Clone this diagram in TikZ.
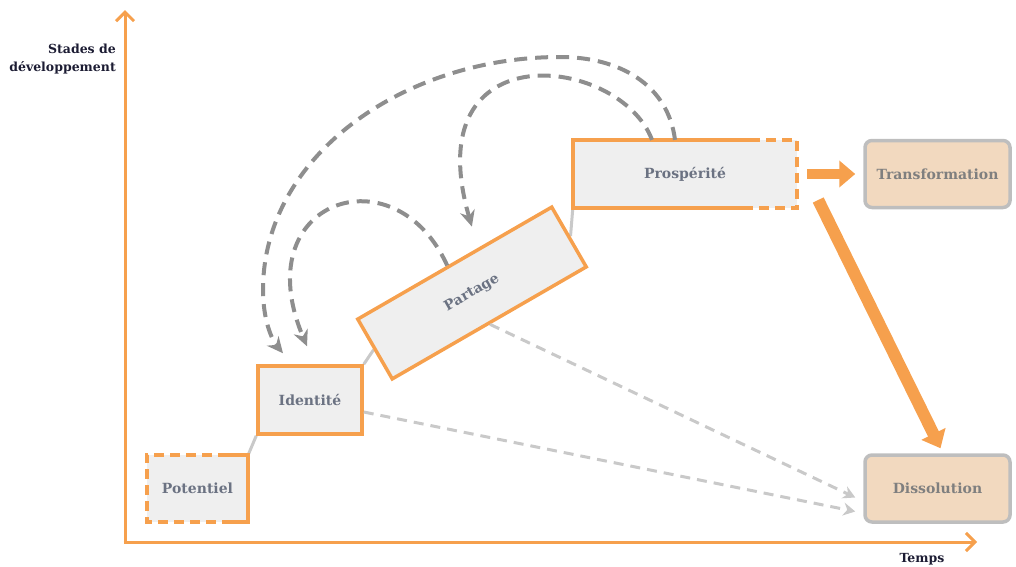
\documentclass[tikz,border=0pt]{standalone}
\usepackage{fontspec}
\setmainfont{DejaVu Serif}
\usepackage{tikz}
\usetikzlibrary{calc,positioning,arrows.meta,backgrounds}
\definecolor{stage-orange}{HTML}{F6A04D}
\definecolor{stage-fill}{HTML}{EFEFEF}
\definecolor{stage-text}{HTML}{6B7282}
\definecolor{outcome-fill}{HTML}{F2D9BF}
\definecolor{outcome-line}{HTML}{BEBEBE}
\definecolor{outcome-text}{HTML}{7F7F7F}
\definecolor{recur-gray}{HTML}{8E8E8E}
\definecolor{drift-gray}{HTML}{C9C9C9}
\definecolor{axis-text}{HTML}{1C1C33}

\begin{document}
\begin{tikzpicture}[x=1pt, y=-1pt,
  font=\fontsize{14}{17}\selectfont\bfseries,
  stage/.style={rectangle, draw=stage-orange, line width=3.5pt, fill=stage-fill, text=stage-text, inner sep=0pt},
  bare/.style={rectangle, fill=stage-fill, text=stage-text, inner sep=0pt},
  outcome/.style={rectangle, rounded corners=7pt, draw=outcome-line, line width=3.5pt, fill=outcome-fill, text=outcome-text, inner sep=0pt, minimum width=145pt, minimum height=67pt},
  rim/.style={stage-orange, line width=3.5pt},
  rimdash/.style={stage-orange, line width=3.5pt, dash pattern=on 10pt off 6pt},
  axis/.style={stage-orange, line width=3pt, -{Straight Barb[length=9pt,width=18pt,line width=3pt]}},
  axislabel/.style={font=\fontsize{12.5}{17.5}\selectfont\bfseries, text=axis-text, inner sep=0pt},
  link/.style={drift-gray, line width=3pt},
  recur/.style={recur-gray, line width=4pt, dash pattern=on 13pt off 8pt, -{Stealth[length=16pt,width=15pt]}},
  drift/.style={drift-gray, line width=3pt, dash pattern=on 10pt off 7pt, -{Stealth[length=12pt,width=13pt]}},
  push/.style={stage-orange, -{Triangle[length=16pt,width=26pt]}}
]
  \useasboundingbox (0,0) rectangle (1016,566);

  \coordinate (origin) at (125,542);
  \coordinate (ytop) at (125,10);
  \coordinate (xend) at (977,542);
  \draw[axis] (origin) -- (ytop);
  \draw[axis] ([xshift=-1.5pt]origin) -- (xend);
  \node[axislabel, anchor=north east, align=right] (ylabel) at (116,44) {Stades de\\développement};
  \node[axislabel] (xlabel) at (922,559) {Temps};

  \node[bare, minimum width=101pt, minimum height=67pt] (potentiel) at (197.5,488.5) {Potentiel};
  \draw[rimdash] ($(potentiel.north east)+(-20,0)$) -- (potentiel.north west) -- (potentiel.south west) -- ($(potentiel.south east)+(-20,0)$);
  \draw[rim] ($(potentiel.north east)+(-20,0)$) -- (potentiel.north east) -- (potentiel.south east) -- ($(potentiel.south east)+(-20,0)$);

  \node[stage, minimum width=104pt, minimum height=68pt] (identite) at (310,400) {Identité};
  \node[stage, minimum width=224pt, minimum height=69pt, rotate=30] (partage) at (472,293) {Partage};

  \node[bare, minimum width=224pt, minimum height=68pt] (prosperite) at (685,174) {Prospérité};
  \draw[rim] ($(prosperite.north east)+(-47,0)$) -- (prosperite.north west) -- (prosperite.south west) -- ($(prosperite.south east)+(-47,0)$);
  \draw[rimdash] ($(prosperite.north east)+(-47,0)$) -- (prosperite.north east) -- (prosperite.south east) -- ($(prosperite.south east)+(-47,0)$);

  \node[outcome] (transformation) at (937.5,174) {Transformation};
  \node[outcome] (dissolution) at (937.5,488.5) {Dissolution};

  \begin{scope}[on background layer]
    \draw[link] (potentiel.north east) -- (identite.south west);
    \draw[link] (identite.north east) -- (partage.west);
    \draw[link] (partage.east) -- (prosperite.south west);
  \end{scope}

  \draw[recur] ($(partage.north west)!0.466!(partage.north east)$) .. controls (395,150) and (245,200) .. ($(identite.north)+(-3,-18)$);
  \draw[recur] ($(prosperite.north)+(-33,0)$) .. controls (620,55) and (415,30) .. ($(partage.north)+(18,-35)$);
  \draw[recur] ($(prosperite.north)+(-10,0)$) .. controls (668,85) and (620,57) .. (560,57)
    .. controls (405,57) and (263,155) .. (263,290)
    .. controls (263,320) and (272,340) .. ($(identite.north)+(-27,-11)$);

  \draw[drift] ($(identite.east)+(0,12)$) -- ($(dissolution.west)+(-8,23)$);
  \draw[drift] (partage.south) -- ($(dissolution.west)+(-8,9)$);

  \draw[push, line width=10pt] ($(prosperite.east)+(10,0)$) -- ($(transformation.west)+(-8,0)$);
  \draw[push, line width=12pt] ($(prosperite.east)+(21,26)$) -- ($(dissolution.north)+(3,-5)$);
\end{tikzpicture}
\end{document}
